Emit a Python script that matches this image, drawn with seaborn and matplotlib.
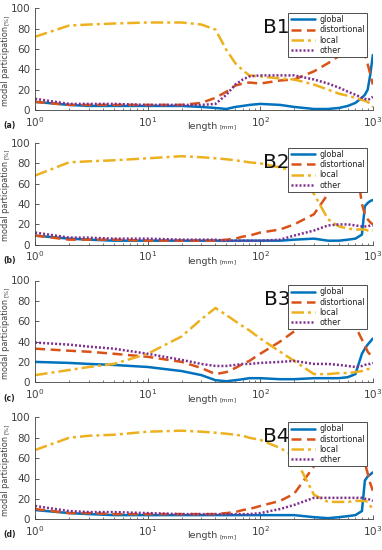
import numpy as np
import pandas as pd
import matplotlib
matplotlib.use("Agg")
import matplotlib.pyplot as plt
import seaborn as sns

# common length grid [mm]
length = [1, 2, 3, 5, 10, 20, 30, 40, 50, 60, 70, 80, 100, 150, 200, 300,
          400, 500, 600, 700, 800, 850, 900, 950, 1000]

modes = ["global", "distortional", "local", "other"]
panel_names = ["B1", "B2", "B3", "B4"]
panel_tags = ["(a)", "(b)", "(c)", "(d)"]

b1_global = [8, 5, 4, 4, 4, 4, 3, 2, 1, 3, 4, 5, 6, 5, 3, 1, 1, 2, 4, 7, 12, 15, 20, 35, 54]
b1_distortional = [8, 5, 5, 5, 5, 5, 7, 12, 18, 24, 26, 27, 26, 29, 30, 38, 46, 53, 58, 62, 60, 55, 45, 35, 25]
b1_local = [72, 83, 84, 85, 86, 86, 84, 79, 59, 46, 39, 34, 33, 31, 30, 25, 20, 16, 14, 12, 10, 9, 8, 6, 3]
b1_other = [11, 6, 6, 6, 5, 5, 5, 6, 15, 25, 30, 33, 34, 34, 34, 30, 26, 22, 18, 15, 12, 11, 10, 11, 13]

b2_global = [9, 6, 5, 4, 4, 4, 4, 4, 4, 4, 4, 4, 4, 4, 5, 6, 4, 4, 5, 6, 10, 38, 41, 43, 44]
b2_distortional = [9, 5, 5, 5, 4, 4, 4, 4, 5, 6, 8, 9, 12, 15, 20, 30, 50, 70, 85, 85, 40, 30, 25, 22, 20]
b2_local = [68, 81, 82, 83, 85, 87, 86, 85, 84, 83, 82, 81, 80, 76, 72, 50, 25, 18, 16, 15, 15, 15, 14, 14, 14]
b2_other = [12, 7, 7, 6, 6, 5, 5, 5, 4, 4, 4, 4, 4, 5, 9, 14, 19, 20, 20, 19, 18, 18, 18, 19, 19]

b3_global = [20, 19, 18, 17, 15, 11, 7, 2, 1, 2, 3, 4, 4, 3, 3, 4, 4, 4, 5, 8, 28, 33, 37, 40, 43]
b3_distortional = [33, 31, 30, 28, 25, 20, 14, 8, 10, 14, 18, 21, 28, 40, 50, 62, 68, 72, 70, 55, 42, 36, 30, 27, 24]
b3_local = [7, 12, 15, 18, 28, 45, 62, 73, 66, 60, 55, 51, 43, 30, 21, 8, 8, 9, 9, 10, 11, 12, 13, 13, 14]
b3_other = [39, 37, 35, 33, 28, 22, 18, 16, 16, 17, 18, 18, 19, 20, 21, 18, 18, 17, 16, 15, 16, 17, 18, 18, 19]

b4_global = [9, 6, 5, 4, 4, 4, 4, 4, 4, 4, 4, 4, 4, 4, 4, 2, 1, 2, 3, 4, 8, 38, 42, 44, 46]
b4_distortional = [10, 6, 6, 5, 5, 5, 5, 5, 6, 7, 9, 10, 13, 18, 25, 52, 75, 85, 85, 80, 65, 55, 45, 35, 28]
b4_local = [68, 80, 82, 83, 86, 87, 86, 85, 84, 83, 82, 80, 78, 70, 62, 24, 17, 17, 17, 18, 18, 18, 17, 13, 10]
b4_other = [13, 8, 7, 7, 6, 5, 5, 5, 5, 5, 5, 5, 6, 10, 14, 21, 21, 21, 21, 21, 21, 20, 20, 19, 18]

panels = [
    [b1_global, b1_distortional, b1_local, b1_other],
    [b2_global, b2_distortional, b2_local, b2_other],
    [b3_global, b3_distortional, b3_local, b3_other],
    [b4_global, b4_distortional, b4_local, b4_other],
]

sns.set_style("ticks")
plt.rcParams["font.family"] = ["DejaVu Sans"]
plt.rcParams["xtick.direction"] = "in"
plt.rcParams["ytick.direction"] = "in"

palette = {"global": "#0072BD", "distortional": "#D95319",
           "local": "#EDB120", "other": "#7E2F8E"}
dashes = {"global": "", "distortional": (4, 2.2),
          "local": (5, 1.6, 1.2, 1.6), "other": (0.8, 0.8)}

fig = plt.figure(figsize=(3.82, 5.5), dpi=100)
lefts = 0.092
width = 0.976 - 0.092
bottoms = [0.800, 0.555, 0.305, 0.056]
height = 0.185

gray = "#404040"
for i, series in enumerate(panels):
    ax = fig.add_axes([lefts, bottoms[i], width, height])
    frames = []
    for m, vals in zip(modes, series):
        frames.append(pd.DataFrame({"length": length, "value": vals, "mode": m}))
    df = pd.concat(frames, ignore_index=True)
    sns.lineplot(data=df, x="length", y="value", hue="mode", style="mode",
                 palette=palette, dashes=dashes, linewidth=1.8, ax=ax,
                 hue_order=modes, style_order=modes, sort=False)
    ax.set_xscale("log")
    ax.set_xlim(1, 1000)
    ax.set_ylim(0, 100)
    ax.set_yticks([0, 20, 40, 60, 80, 100])
    ax.tick_params(axis="both", labelsize=7.5, colors=gray, length=3, width=0.6)
    ax.tick_params(axis="x", which="minor", length=1.8, width=0.5, colors=gray)
    for s in ["top", "right"]:
        ax.spines[s].set_visible(False)
    for s in ["left", "bottom"]:
        ax.spines[s].set_color(gray)
        ax.spines[s].set_linewidth(0.6)
    ax.set_xlabel("")
    ax.set_ylabel("")
    # labels
    ax.text(0.54, -0.165, "length", transform=ax.transAxes, fontsize=6.8,
            color=gray, ha="right", va="center")
    ax.text(0.545, -0.17, "[mm]", transform=ax.transAxes, fontsize=4.5,
            color=gray, ha="left", va="center")
    ax.text(-0.089, 0.43, "modal participation", transform=ax.transAxes,
            fontsize=5.9, color=gray, ha="center", va="center", rotation=90)
    ax.text(-0.086, 0.89, "[%]", transform=ax.transAxes, fontsize=4.2,
            color=gray, ha="center", va="center", rotation=90)
    ax.text(-0.095, -0.155, panel_tags[i], transform=ax.transAxes,
            fontsize=5.5, fontweight="bold", color="#202020",
            ha="left", va="center")
    sns.move_legend(ax, "upper right", title=None, fontsize=5.8,
                    frameon=True, fancybox=False, framealpha=1,
                    edgecolor="#303030", handlelength=3.0, handletextpad=0.5,
                    labelspacing=0.15, borderpad=0.3,
                    bbox_to_anchor=(0.995, 0.995))
    leg = ax.get_legend()
    leg.get_frame().set_linewidth(0.6)
    for t in leg.get_texts():
        t.set_color("#202020")
    ax.text(0.755, 0.81, panel_names[i], transform=ax.transAxes,
            fontsize=14.5, color="#111111", ha="right", va="center")

fig.savefig("out.png", dpi=100)
